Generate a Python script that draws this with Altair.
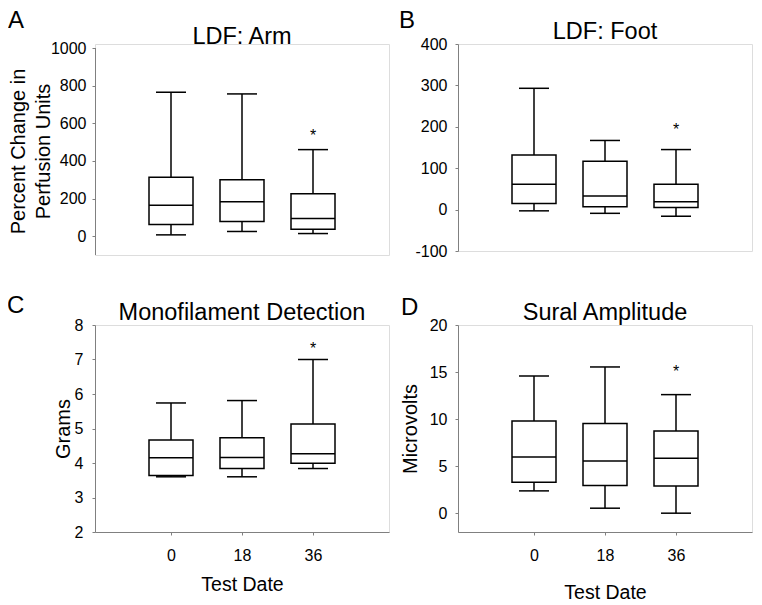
import altair as alt
import pandas as pd

# ---------------- data ----------------
dates = [0, 18, 36]

arm_low = [7, 25, 14]
arm_q1 = [62, 78, 37]
arm_med = [165, 183, 94]
arm_q3 = [313, 300, 225]
arm_high = [765, 756, 460]
arm_star = [555]

foot_low = [-3, -9, -16]
foot_q1 = [15, 7, 5]
foot_med = [61, 33, 19]
foot_q3 = [132, 117, 61]
foot_high = [293, 167, 145]
foot_star = [203]

mono_low = [3.60, 3.60, 3.84]
mono_q1 = [3.64, 3.84, 3.99]
mono_med = [4.15, 4.16, 4.27]
mono_q3 = [4.67, 4.73, 5.13]
mono_high = [5.74, 5.81, 7.00]
mono_star = [7.42]

sural_low = [2.37, 0.53, 0.00]
sural_q1 = [3.29, 2.93, 2.90]
sural_med = [5.98, 5.55, 5.84]
sural_q3 = [9.80, 9.52, 8.74]
sural_high = [14.58, 15.54, 12.60]
sural_star = [15.46]

star_date = [36]

arm_ticks = [0, 200, 400, 600, 800, 1000]
foot_ticks = [-100, 0, 100, 200, 300, 400]
mono_ticks = [2, 3, 4, 5, 6, 7, 8]
sural_ticks = [0, 5, 10, 15, 20]

FONT = "Liberation Sans"
GRAY = "#808080"
W = 294
LABEL_EXPR = "'' + datum.value"


def make_panel(low, q1, med, q3, high, star, ydomain, yticks, ytitle,
               ytitle_x, ytitle_y, ylabel_pad, height, title, title_y,
               letter, lx, ly, show_x, xtitle_pad=0, ydomain_line=True,
               rule_range=None):
    df = pd.DataFrame({"date": dates, "low": low, "q1": q1, "med": med,
                       "q3": q3, "high": high})
    sdf = pd.DataFrame({"date": star_date, "star": star})
    ldf = pd.DataFrame({"letter": [letter], "title": [title]})

    if show_x:
        xaxis = alt.Axis(values=dates, title="Test Date", grid=False,
                         domainColor=GRAY, tickColor=GRAY, tickSize=3,
                         labelFont=FONT, labelFontSize=16, labelColor="black",
                         labelPadding=12, titleFont=FONT, titleFontSize=19.5,
                         titleFontWeight="normal", titleColor="black",
                         titlePadding=xtitle_pad, labelFlush=False,
                         labelExpr=LABEL_EXPR)
    else:
        xaxis = None
    xsc = alt.Scale(domain=[-18, 54], nice=False, zero=False)
    ysc = alt.Scale(domain=ydomain, nice=False, zero=False)
    yaxis = alt.Axis(values=yticks, title=ytitle, grid=False,
                     domain=ydomain_line, domainColor=GRAY, tickColor=GRAY,
                     tickSize=3, labelFont=FONT, labelFontSize=16,
                     labelColor="black", labelPadding=ylabel_pad,
                     titleFont=FONT, titleFontSize=20,
                     titleFontWeight="normal", titleColor="black",
                     titleX=ytitle_x, titleY=ytitle_y,
                     titleBaseline="alphabetic", titleAlign="center",
                     titleLineHeight=25, labelFlush=False,
                     labelExpr=LABEL_EXPR)

    def X():
        return alt.X("date:Q", scale=xsc, axis=xaxis)

    def Y(field):
        return alt.Y(field, type="quantitative", scale=ysc, axis=yaxis)

    base = alt.Chart(df)
    whisk = base.mark_rule(color="black", strokeWidth=1.5).encode(
        x=X(), y=Y("low"), y2="high")
    box = base.mark_bar(size=44, fill="white", stroke="black",
                        strokeWidth=1.5, opacity=1).encode(
        x=X(), y=Y("q1"), y2="q3")
    medt = base.mark_tick(orient="horizontal", size=44, thickness=1.5,
                          color="black", opacity=1).encode(x=X(), y=Y("med"))
    lowc = base.mark_tick(orient="horizontal", size=30, thickness=1.5,
                          color="black", opacity=1).encode(x=X(), y=Y("low"))
    highc = base.mark_tick(orient="horizontal", size=30, thickness=1.5,
                           color="black", opacity=1).encode(x=X(), y=Y("high"))
    st = alt.Chart(sdf).mark_text(text="*", font=FONT, fontSize=16,
                                  color="black", baseline="middle",
                                  dy=4).encode(x=X(), y=Y("star"))
    let = alt.Chart(ldf).mark_text(font=FONT, fontSize=24, color="black",
                                   align="left", baseline="alphabetic").encode(
        text="letter:N", x=alt.value(lx), y=alt.value(ly))
    ttl = alt.Chart(ldf).mark_text(font=FONT, fontSize=23.5, color="black",
                                   align="center", baseline="alphabetic").encode(
        text="title:N", x=alt.value(W / 2), y=alt.value(title_y))
    layers = [whisk, box, medt, lowc, highc, st, let, ttl]
    if rule_range is not None:
        rdf = pd.DataFrame({"y0": [rule_range[0]], "y1": [rule_range[1]]})
        rule = alt.Chart(rdf).mark_rule(color=GRAY, strokeWidth=1).encode(
            x=alt.value(0.5), y=Y("y0"), y2="y1")
        layers = [rule] + layers
    return alt.layer(*layers).properties(width=W, height=height)


A = make_panel(arm_low, arm_q1, arm_med, arm_q3, arm_high, arm_star,
               [-100, 1021.3], arm_ticks,
               ["Percent Change in", "Perfusion Units"], -71, 107, 6, 211,
               "LDF: Arm", 0, "A", -87, -16, False, ydomain_line=False,
               rule_range=[-100, 1000])
B = make_panel(foot_low, foot_q1, foot_med, foot_q3, foot_high, foot_star,
               [-100, 400], foot_ticks, "", -40, 103.5, 8, 207,
               "LDF: Foot", -5, "B", -59, -16, False)
C = make_panel(mono_low, mono_q1, mono_med, mono_q3, mono_high, mono_star,
               [2, 8], mono_ticks, "Grams", -26, 103.5, 9, 207,
               "Monofilament Detection", -5, "C", -88, -12, True, xtitle_pad=12)
D = make_panel(sural_low, sural_q1, sural_med, sural_q3, sural_high,
               sural_star, [-2, 20], sural_ticks, "Microvolts", -41.5, 103.5,
               8, 207, "Sural Amplitude", -5, "D", -57, -10, True,
               xtitle_pad=20)

chart = alt.concat(A, B, C, D, columns=2,
                   spacing=alt.RowColnumber(row=70, column=69),
                   bounds="flush").properties(
    padding={"left": -2, "top": 0, "right": 0, "bottom": 0}
).configure_view(strokeWidth=0).configure(background="white")

chart.save("out.html", embed_options={"renderer": "svg", "actions": False})
